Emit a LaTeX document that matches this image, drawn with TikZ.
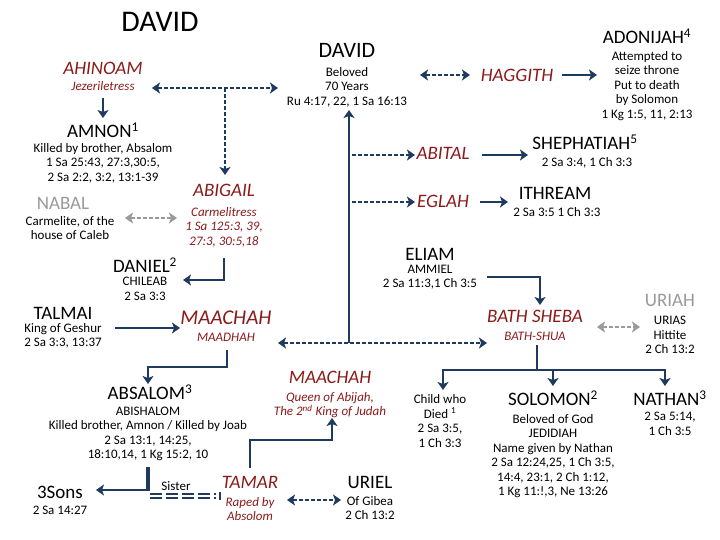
\documentclass[tikz,border=0pt]{standalone}
\usepackage{fontspec}
\setmainfont{Carlito}
\usetikzlibrary{arrows.meta}
\definecolor{navy}{HTML}{1F3A5F}
\definecolor{dred}{HTML}{8B1A1A}
\definecolor{gr}{HTML}{9A9A9A}
\begin{document}
\begin{tikzpicture}[x=1pt,y=-1pt,
 nm/.style={font=\fontsize{19}{21}\selectfont,inner sep=0pt},
 wf/.style={nm,text=dred,font=\fontsize{19}{21}\selectfont\itshape},
 sm/.style={font=\fontsize{13}{14.5}\selectfont,align=center,inner sep=0pt},
 wsm/.style={sm,text=dred,font=\fontsize{13}{14.5}\selectfont\itshape},
 ln/.style={navy,line width=2pt,-{Stealth[width=11pt,length=8pt,inset=2pt]}},
 dl/.style={ln,dashed,dash pattern=on 4pt off 2pt},
 ddl/.style={dl,{Stealth[width=11pt,length=8pt,inset=2pt]}-{Stealth[width=11pt,length=8pt,inset=2pt]}},
 gdl/.style={ddl,gr}]
\useasboundingbox (0,0) rectangle (720,540);
\node[inner sep=0pt,font=\fontsize{30}{32}\selectfont] (title) at (160,22) {DAVID};
% David
\node[nm,font=\fontsize{22}{24}\selectfont] (david) at (347,50) {DAVID};
\node[sm] (davidt) at (347,87) {Beloved\\70 Years\\Ru 4:17, 22, 1 Sa 16:13};
\node[wf] (ahinoam) at (103,68) {AHINOAM};
\node[wsm] (ahint) at (103,86) {Jezeriletress};
\node[nm] (amnon) at (103,130) {AMNON\textsuperscript{1}};
\node[sm] (amnont) at (103,163) {Killed by brother, Absalom\\1 Sa 25:43, 27:3,30:5,\\2 Sa 2:2, 3:2, 13:1-39};
\node[wf] (abigail) at (224,190) {ABIGAIL};
\node[wsm] (abigt) at (224,227) {Carmelitress\\1 Sa 125:3, 39,\\27:3, 30:5,18};
\node[nm,text=gr] (nabal) at (63,203) {NABAL};
\node[sm] (nabalt) at (70,228) {Carmelite, of the\\house of Caleb};
\node[nm] (daniel) at (145,265) {DANIEL\textsuperscript{2}};
\node[sm] (danielt) at (145,289) {CHILEAB\\2 Sa 3:3};
\node[nm] (talmai) at (63,313) {TALMAI};
\node[sm] (talmait) at (63,336) {King of Geshur\\2 Sa 3:3, 13:37};
\node[wf,font=\fontsize{21}{23}\selectfont\itshape] (maachah) at (226,318) {MAACHAH};
\node[wsm] (maadhah) at (226,337) {MAADHAH};
\node[wf] (haggith) at (517,75) {HAGGITH};
\node[nm] (adonijah) at (647,36) {ADONIJAH\textsuperscript{4}};
\node[sm] (adont) at (647,86) {Attempted to\\seize throne\\Put to death\\by Solomon\\1 Kg 1:5, 11, 2:13};
\node[wf] (abital) at (443,153) {ABITAL};
\node[nm] (sheph) at (585,142) {SHEPHATIAH\textsuperscript{5}};
\node[sm] (shepht) at (587,163) {2 Sa 3:4, 1 Ch 3:3};
\node[wf] (eglah) at (443,201) {EGLAH};
\node[nm] (ithream) at (555,193) {ITHREAM};
\node[sm] (ithreamt) at (557,212) {2 Sa 3:5 1 Ch 3:3};
\node[nm] (eliam) at (430,254) {ELIAM};
\node[sm] (eliamt) at (430,277) {AMMIEL\\2 Sa 11:3,1 Ch 3:5};
\node[wf] (bath) at (535,316) {BATH SHEBA};
\node[wsm] (batht) at (535,336) {BATH-SHUA};
\node[nm,text=gr] (uriah) at (670,300) {URIAH};
\node[sm] (uriaht) at (670,335) {URIAS\\Hittite\\2 Ch 13:2};
\node[nm] (absalom) at (150,392) {ABSALOM\textsuperscript{3}};
\node[sm] (absalomt) at (148,434) {ABISHALOM\\Killed brother, Amnon / Killed by Joab\\2 Sa 13:1, 14:25,\\18:10,14, 1 Kg 15:2, 10};
\node[wf] (maachah2) at (330,377) {MAACHAH};
\node[wsm] (maachah2t) at (330,405) {Queen of Abijah,\\The 2\textsuperscript{nd} King of Judah};
\node[nm] (sons) at (60,492) {3Sons};
\node[sm] (sons2) at (60,510) {2 Sa 14:27};
\node[sm] (sister) at (176,486) {Sister};
\node[wf] (tamar) at (250,482) {TAMAR};
\node[wsm] (tamart) at (250,509) {Raped by\\Absolom};
\node[nm] (uriel) at (370,482) {URIEL};
\node[sm] (urielt) at (370,508) {Of Gibea\\2 Ch 13:2};
\node[sm] (child) at (440,421) {Child who\\Died \textsuperscript{1}\\2 Sa 3:5,\\1 Ch 3:3};
\node[nm] (solomon) at (553,398) {SOLOMON\textsuperscript{2}};
\node[sm] (solomont) at (553,456) {Beloved of God\\JEDIDIAH\\Name given by Nathan\\2 Sa 12:24,25, 1 Ch 3:5,\\14:4, 23:1, 2 Ch 1:12,\\1 Kg 11:!,3, Ne 13:26};
\node[nm] (nathan) at (670,398) {NATHAN\textsuperscript{3}};
\node[sm] (nathant) at (670,424) {2 Sa 5:14,\\1 Ch 3:5};
% coordinates
\coordinate (c1) at (225,88);
\coordinate (dv) at (349,343);
% connectors
\draw[ddl] (152,88) -- (278,88);
\draw[dl] (c1) -- (225,175);
\draw[ln] (103,98) -- (103,118);
\draw[gdl] (125,218) -- (177,218);
\draw[ln] (224,258) |- (183,280);
\draw[ln] (115,328) -- (180,328);
\draw[ln] (dv) -- (349,110);
\draw[ddl] (278,343) -- (487,343);
\draw[dl] (352,155) -- (415,155);
\draw[ln] (482,155) -- (528,155);
\draw[dl] (352,202) -- (415,202);
\draw[ln] (480,202) -- (508,202);
\draw[ln] (487,277) -| (540,305);
\draw[gdl] (597,327) -- (640,327);
\draw[ddl] (420,75) -- (470,75);
\draw[ln] (562,75) -- (597,75);
\draw[ln] (227,350) |- (148,367) -- (148,384);
\draw[navy,line width=4.5pt] (148,467) -- (148,491);
\draw[ln] (148,490) -- (96,490);
\draw[navy,line width=1.5pt,dashed,dash pattern=on 12pt off 4pt] (150,494) -- (216,494) (150,498) -- (216,498);
\draw[navy,line width=1.5pt] (220,492) -- (220,500);
\draw[ln] (250,468) |- (332,440) -- (332,418);
\draw[ddl] (287,500) -- (341,500);
\draw[ln,-] (537,345) -- (537,370);
\draw[ln,-] (442,370) -- (666,370);
\draw[ln] (443,370) -- (443,390);
\draw[ln] (553,370) -- (553,386);
\draw[ln] (665,370) -- (665,386);
\end{tikzpicture}
\end{document}
